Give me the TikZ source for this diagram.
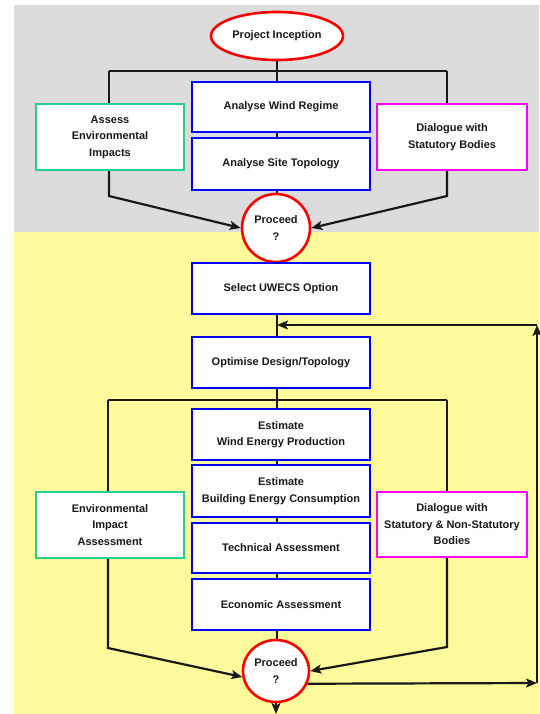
\documentclass[tikz,border=0pt]{standalone}
\usepackage{fontspec}
\setmainfont{Liberation Sans}
\usetikzlibrary{shapes.geometric,arrows.meta}
\definecolor{bggray}{RGB}{220,220,220}
\definecolor{bgyellow}{RGB}{255,250,155}
\definecolor{teal2}{RGB}{40,205,150}
\definecolor{mag}{RGB}{255,0,255}
\tikzset{
  txt/.style={font=\fontsize{11}{16.5}\selectfont\bfseries, align=center, text=black!90},
  bluebox/.style={txt, draw=blue, line width=2.2pt, fill=white, minimum width=178pt, inner sep=0pt},
  tealbox/.style={txt, draw=teal2, line width=2.2pt, fill=white, minimum width=148pt, minimum height=66pt, inner sep=0pt},
  magbox/.style={txt, draw=mag, line width=2.2pt, fill=white, minimum width=150pt, minimum height=66pt, inner sep=0pt},
  redoval/.style={txt, draw=red, line width=2.6pt, fill=white, ellipse, inner sep=0pt},
  conn/.style={line width=2.2pt, draw=black!90},
  arr/.style={conn, -{Stealth[length=11pt,width=9pt,inset=2.5pt]}}
}
\begin{document}
\begin{tikzpicture}[x=1pt,y=-1pt]
\useasboundingbox (0,0) rectangle (539,714);
\fill[bggray] (14,5) rectangle (539,232);
\fill[bgyellow] (14,232) rectangle (539,714);

% nodes
\node[redoval, minimum width=132pt, minimum height=48pt] (pi) at (277,36) {Project Inception};
\node[bluebox, minimum height=50pt] (wind) at (281,107) {Analyse Wind Regime};
\node[bluebox, minimum height=52pt] (site) at (281,164) {Analyse Site Topology};
\node[tealbox] (assess) at (110,137) {Assess\\Environmental\\Impacts};
\node[magbox] (dial1) at (452,137) {Dialogue with\\Statutory Bodies};
\node[redoval, circle, minimum size=68pt] (p1) at (276,228) {Proceed\\?};

\node[bluebox, minimum height=51pt] (select) at (281,288.5) {Select UWECS Option};
\node[bluebox, minimum height=51pt] (optim) at (281,362.5) {Optimise Design/Topology};
\node[bluebox, minimum height=51pt] (estw) at (281,434.5) {Estimate\\Wind Energy Production};
\node[bluebox, minimum height=52pt] (estb) at (281,491) {Estimate\\Building Energy Consumption};
\node[bluebox, minimum height=50pt] (tech) at (281,548) {Technical Assessment};
\node[bluebox, minimum height=51pt] (econ) at (281,604.5) {Economic Assessment};
\node[tealbox] (env) at (110,525) {Environmental\\Impact\\Assessment};
\node[magbox, minimum height=65pt] (dial2) at (452,524.5) {Dialogue with\\Statutory \& Non-Statutory\\Bodies};
\node[redoval, minimum width=66pt, minimum height=62pt] (p2) at (276,671) {Proceed\\?};

% coordinates
\coordinate (b1) at (277,71);
\coordinate (b1l) at (109,71);
\coordinate (b1r) at (447,71);
\coordinate (k1l) at (109,196);
\coordinate (k1r) at (447,196);
\coordinate (b2) at (277,400);
\coordinate (b2l) at (108,400);
\coordinate (b2r) at (447,400);
\coordinate (k2l) at (108,648);
\coordinate (k2r) at (447,647);
\coordinate (c1) at (537,683);
\coordinate (c2) at (537,325);
\coordinate (c3) at (277,325);
\coordinate (c4) at (276,714);

% top section
\draw[conn] (pi.south -| b1) -- (b1);
\draw[conn] (b1l) -- (b1r);
\draw[conn] (b1) -- (b1 |- wind.north);
\draw[conn] (b1l) -- (b1l |- assess.north);
\draw[conn] (b1r) -- (b1r |- dial1.north);
\draw[conn] (wind.south -| b1) -- (site.north -| b1);
\draw[conn] (site.south -| b1) -- (b1 |- p1.north);
\draw[arr] (assess.south -| b1l) -- (k1l) -- (p1.west);
\draw[arr] (dial1.south -| b1r) -- (k1r) -- (p1.east);

% lower section
\draw[conn] (b1 |- p1.south) -- (b1 |- select.north);
\draw[conn] (b1 |- select.south) -- (b1 |- optim.north);
\draw[conn] (b2 |- optim.south) -- (b2);
\draw[conn] (b2l) -- (b2r);
\draw[conn] (b2) -- (b2 |- estw.north);
\draw[conn] (b2l) -- (b2l |- env.north);
\draw[conn] (b2r) -- (b2r |- dial2.north);
\draw[conn] (b2 |- estw.south) -- (b2 |- estb.north);
\draw[conn] (b2 |- estb.south) -- (b2 |- tech.north);
\draw[conn] (b2 |- tech.south) -- (b2 |- econ.north);
\draw[conn] (b2 |- econ.south) -- (b2 |- p2.north);
\draw[arr] (env.south -| b2l) -- (k2l) -- (p2.190);
\draw[arr] (dial2.south -| b2r) -- (k2r) -- (p2.east);
\draw[arr] (p2.-22) -- (c1);
\draw[arr] (c1) -- (c2);
\draw[arr] (c2) -- (c3);
\draw[arr] (p2.south) -- (c4);
\end{tikzpicture}
\end{document}
